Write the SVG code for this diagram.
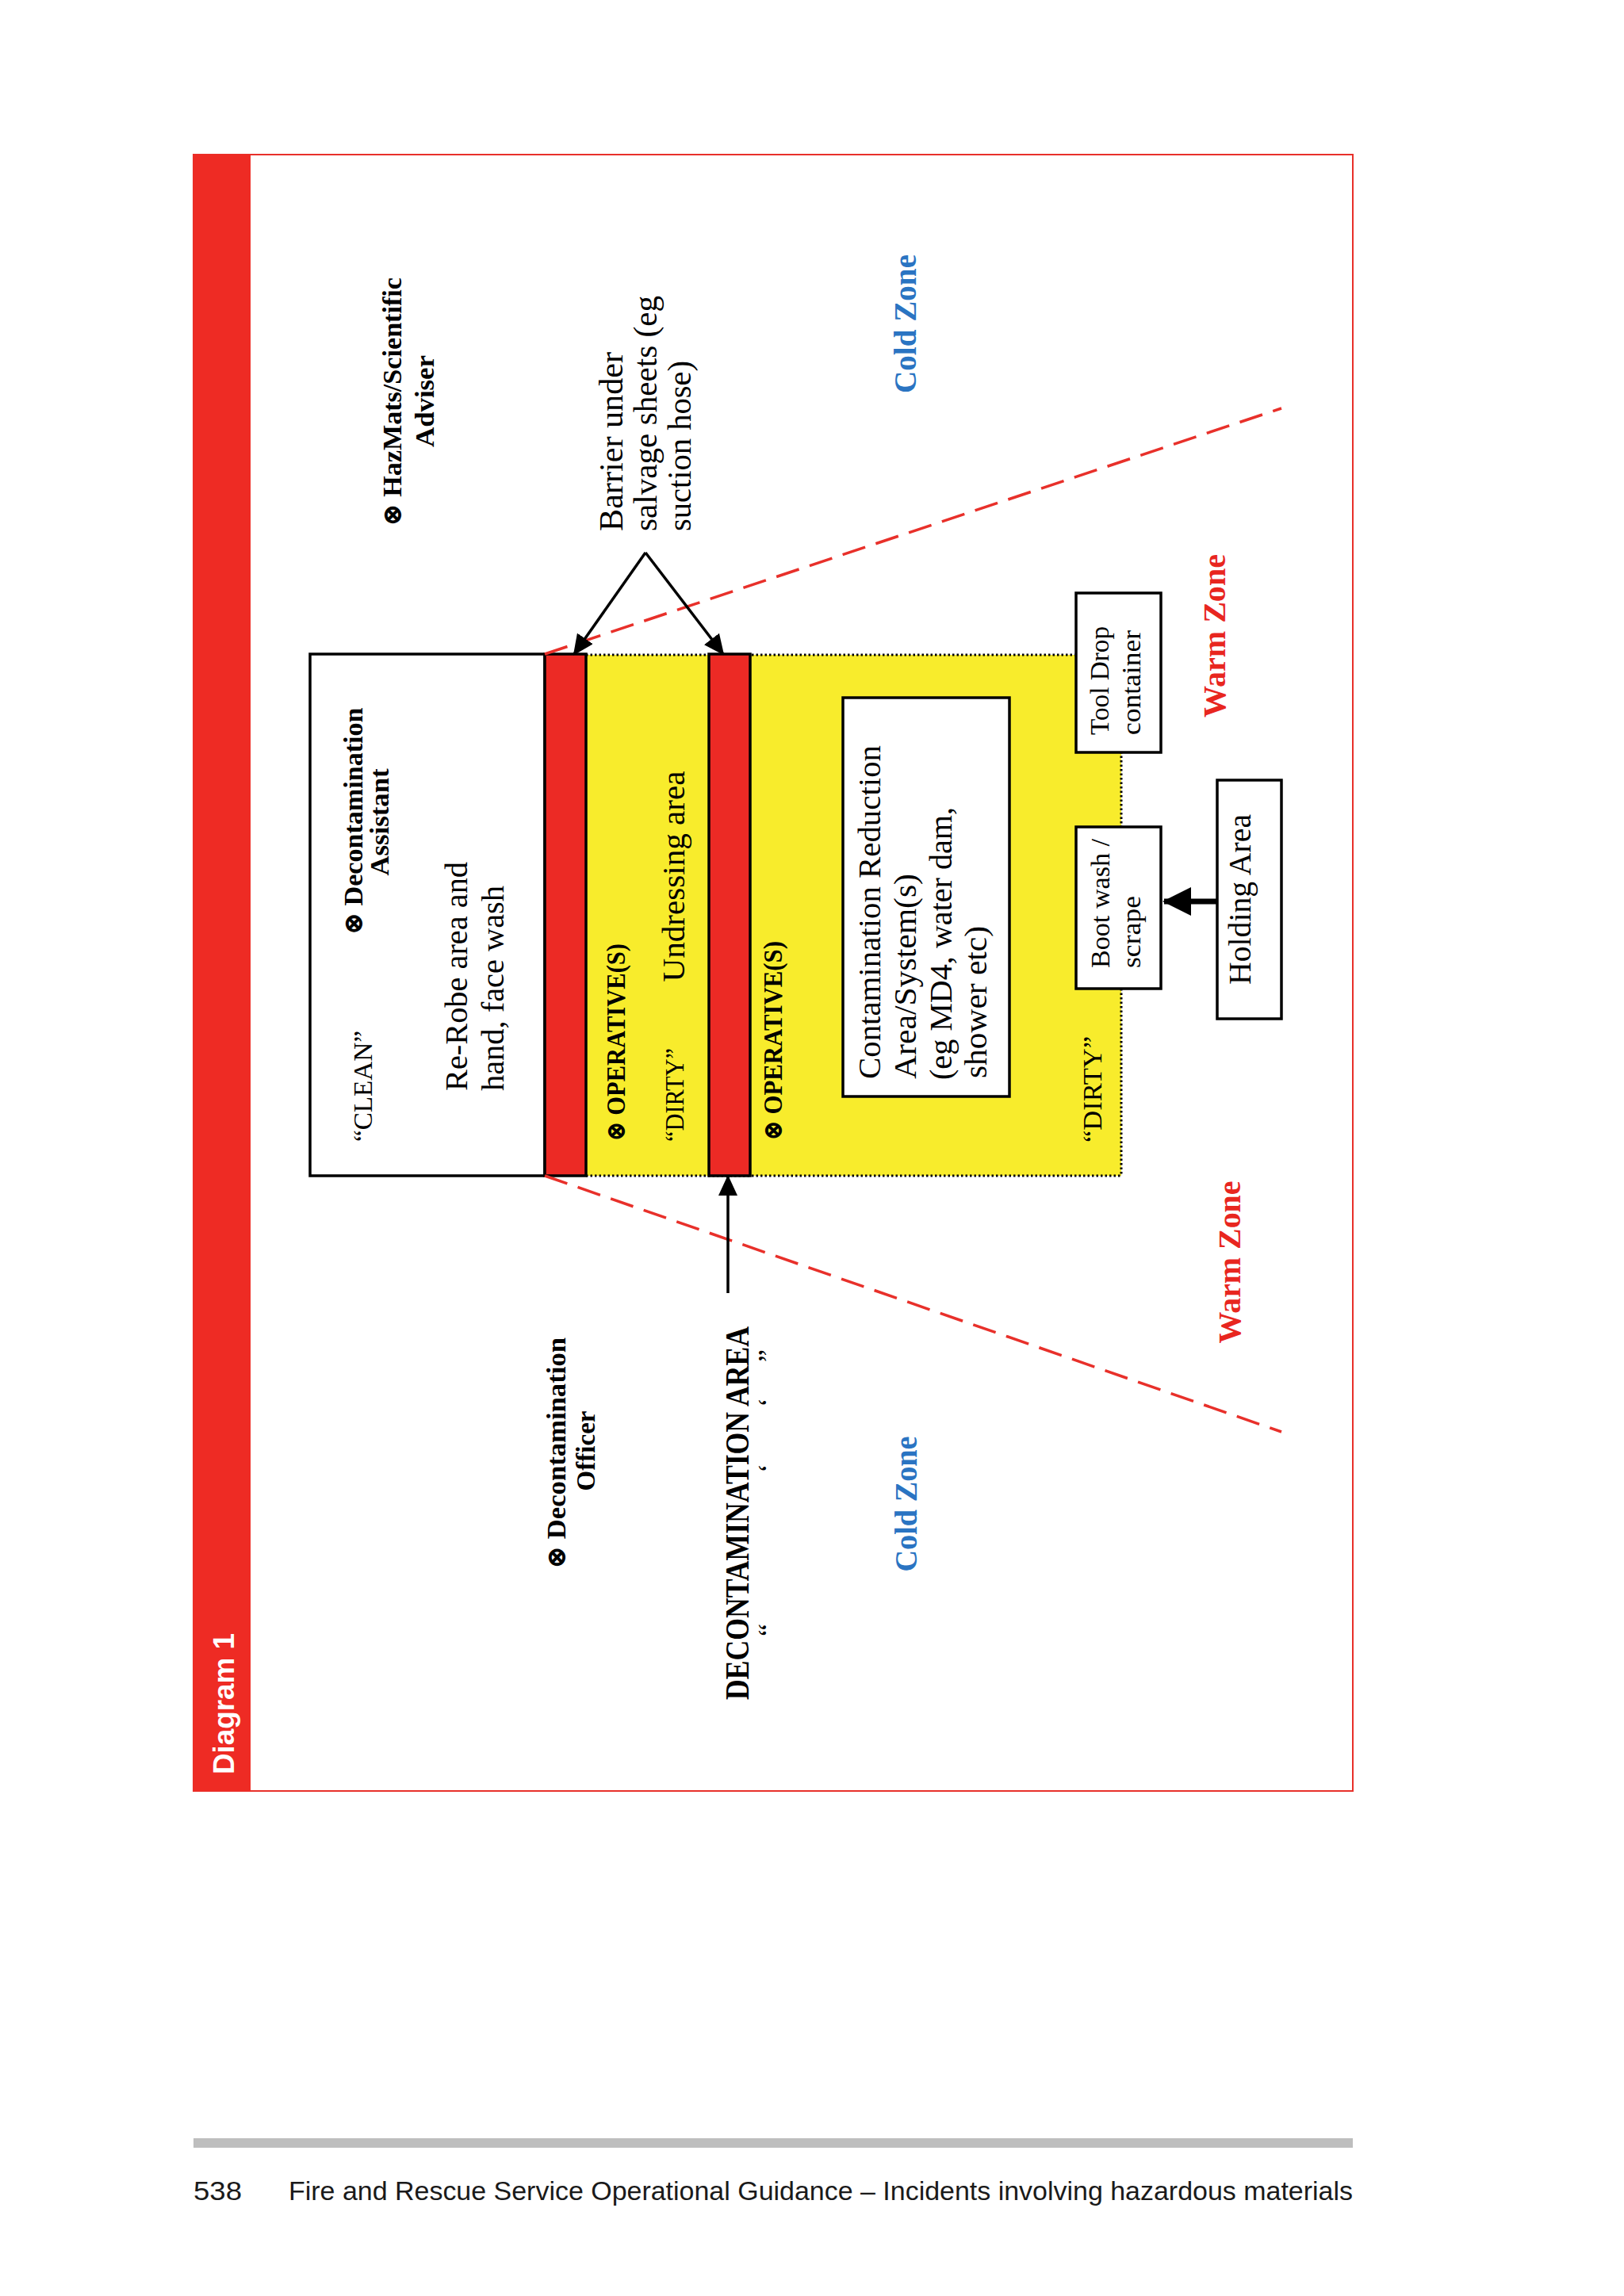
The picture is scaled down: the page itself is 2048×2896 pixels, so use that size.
<svg xmlns="http://www.w3.org/2000/svg" width="2048" height="2896" viewBox="0 0 2048 2896">
<style>
.sf{font-family:"Liberation Serif","DejaVu Serif",serif;fill:#000}
.b{font-weight:bold}
.ss{font-family:"Liberation Sans",Arial,sans-serif}
.box{fill:#fff;stroke:#000;stroke-width:3.5}
.bar{fill:#ec2a25;stroke:#000;stroke-width:3.5}
.dot{fill:none;stroke:#000;stroke-width:3;stroke-dasharray:2.5 3}
.dash{fill:none;stroke:#e8302a;stroke-width:3.5;stroke-dasharray:30 14}
.con{fill:none;stroke:#000;stroke-width:3.5}
.cold{fill:#2a74c2;font-weight:bold}
.warm{fill:#e8261f;font-weight:bold}
</style>
<defs>
<marker id="ah" markerWidth="26" markerHeight="24" refX="24" refY="12" orient="auto" markerUnits="userSpaceOnUse"><path d="M0,0 L26,12 L0,24 z" fill="#000"/></marker>
<marker id="ahb" markerWidth="36" markerHeight="36" refX="34" refY="18" orient="auto" markerUnits="userSpaceOnUse"><path d="M0,0 L36,18 L0,36 z" fill="#000"/></marker>
</defs>
<rect width="2048" height="2896" fill="#fff"/>

<g id="frame">
<rect x="244" y="195" width="1462" height="2064" fill="none" stroke="#e8302a" stroke-width="2"/>
<rect x="244" y="195" width="72" height="2064" fill="#ee2b24"/>
<text class="ss b" transform="translate(295,2238) rotate(-90)" font-size="37" font-weight="bold" fill="#fff" textLength="178" lengthAdjust="spacingAndGlyphs">Diagram 1</text>
</g>

<g id="yellow-area">
<rect x="739" y="826" width="675" height="657" fill="#f8ec2c"/>
<path class="dot" d="M739,826 H1356 M1414,948 V1043 M1414,1247 V1483 M739,1483 H1414"/>
</g>

<g id="clean-area">
<rect class="box" x="391" y="825" width="296" height="658"/>
<text class="sf" transform="translate(469,1440) rotate(-90)" font-size="34" textLength="140" lengthAdjust="spacingAndGlyphs">“CLEAN”</text>
<text class="sf b" transform="translate(457,1036) rotate(-90)" font-size="34" text-anchor="middle" textLength="287" lengthAdjust="spacingAndGlyphs">⊗ Decontamination</text>
<text class="sf b" transform="translate(490,1037) rotate(-90)" font-size="34" text-anchor="middle" textLength="135" lengthAdjust="spacingAndGlyphs">Assistant</text>
<text class="sf" transform="translate(589,1376) rotate(-90)" font-size="40" textLength="289" lengthAdjust="spacingAndGlyphs">Re-Robe area and</text>
<text class="sf" transform="translate(635,1376) rotate(-90)" font-size="40" textLength="259" lengthAdjust="spacingAndGlyphs">hand, face wash</text>
</g>

<g id="barrier-1">
<rect class="bar" x="687" y="825" width="52" height="658"/>
</g>

<g id="undressing-area">
<text class="sf b" transform="translate(788,1440) rotate(-90)" font-size="34" textLength="250" lengthAdjust="spacingAndGlyphs">⊗ OPERATIVE(S)</text>
<text class="sf" transform="translate(862,1440) rotate(-90)" font-size="34" textLength="118" lengthAdjust="spacingAndGlyphs">“DIRTY”</text>
<text class="sf" transform="translate(863,1238.5) rotate(-90)" font-size="40" textLength="266" lengthAdjust="spacingAndGlyphs">Undressing area</text>
</g>

<g id="barrier-2">
<rect class="bar" x="894" y="825" width="52" height="658"/>
</g>

<g id="dirty-area">
<text class="sf b" transform="translate(986,1439) rotate(-90)" font-size="34" textLength="252" lengthAdjust="spacingAndGlyphs">⊗ OPERATIVE(S)</text>
<text class="sf" transform="translate(1389,1441) rotate(-90)" font-size="34" textLength="134" lengthAdjust="spacingAndGlyphs">“DIRTY”</text>
</g>

<g id="contamination-reduction">
<rect class="box" x="1063" y="880" width="210" height="503"/>
<text class="sf" transform="translate(1110,1361) rotate(-90)" font-size="41" textLength="421" lengthAdjust="spacingAndGlyphs">Contamination Reduction</text>
<text class="sf" transform="translate(1155,1361) rotate(-90)" font-size="41" textLength="259" lengthAdjust="spacingAndGlyphs">Area/System(s)</text>
<text class="sf" transform="translate(1200,1362) rotate(-90)" font-size="41" textLength="344" lengthAdjust="spacingAndGlyphs">(eg MD4, water dam,</text>
<text class="sf" transform="translate(1244,1360) rotate(-90)" font-size="41" textLength="192" lengthAdjust="spacingAndGlyphs">shower etc)</text>
</g>

<g id="tool-drop">
<rect class="box" x="1357" y="748" width="107" height="201"/>
<text class="sf" transform="translate(1398,927) rotate(-90)" font-size="33" textLength="137" lengthAdjust="spacingAndGlyphs">Tool Drop</text>
<text class="sf" transform="translate(1438,927) rotate(-90)" font-size="33" textLength="132" lengthAdjust="spacingAndGlyphs">container</text>
</g>

<g id="boot-wash">
<rect class="box" x="1357" y="1043" width="107" height="204"/>
<text class="sf" transform="translate(1399,1221) rotate(-90)" font-size="34" textLength="163" lengthAdjust="spacingAndGlyphs">Boot wash /</text>
<text class="sf" transform="translate(1438,1221) rotate(-90)" font-size="34" textLength="91" lengthAdjust="spacingAndGlyphs">scrape</text>
</g>

<g id="holding-area">
<rect class="box" x="1535" y="984" width="81" height="301"/>
<text class="sf" transform="translate(1577,1134.5) rotate(-90)" font-size="39" text-anchor="middle" textLength="215" lengthAdjust="spacingAndGlyphs">Holding Area</text>
</g>

<g id="hazmats-adviser">
<text class="sf b" transform="translate(506,507) rotate(-90)" font-size="34" text-anchor="middle" textLength="314" lengthAdjust="spacingAndGlyphs">⊗ HazMats/Scientific</text>
<text class="sf b" transform="translate(547,506) rotate(-90)" font-size="34" text-anchor="middle" textLength="116" lengthAdjust="spacingAndGlyphs">Adviser</text>
</g>

<g id="barrier-label">
<text class="sf" transform="translate(785,670) rotate(-90)" font-size="42" textLength="226" lengthAdjust="spacingAndGlyphs">Barrier under</text>
<text class="sf" transform="translate(828,670) rotate(-90)" font-size="42" textLength="297" lengthAdjust="spacingAndGlyphs">salvage sheets (eg</text>
<text class="sf" transform="translate(871,670) rotate(-90)" font-size="42" textLength="215" lengthAdjust="spacingAndGlyphs">suction hose)</text>
</g>

<g id="decon-officer">
<text class="sf b" transform="translate(713,1833) rotate(-90)" font-size="34" text-anchor="middle" textLength="292" lengthAdjust="spacingAndGlyphs">⊗ Decontamination</text>
<text class="sf b" transform="translate(750,1830) rotate(-90)" font-size="34" text-anchor="middle" textLength="101" lengthAdjust="spacingAndGlyphs">Officer</text>
</g>

<g id="decon-area-label">
<text class="sf b" transform="translate(944,2144) rotate(-90)" font-size="42" textLength="471" lengthAdjust="spacingAndGlyphs">DECONTAMINATION AREA</text>
<text class="sf" transform="translate(981,2064) rotate(-90)" font-size="36">“</text>
<text class="sf" transform="translate(981,1858) rotate(-90)" font-size="36">‘</text>
<text class="sf" transform="translate(981,1775) rotate(-90)" font-size="36">‘</text>
<text class="sf" transform="translate(981,1718) rotate(-90)" font-size="36">”</text>
</g>

<g id="zone-labels">
<text class="sf cold" transform="translate(1155,408.5) rotate(-90)" font-size="40" text-anchor="middle" textLength="175" lengthAdjust="spacingAndGlyphs">Cold Zone</text>
<text class="sf cold" transform="translate(1156,1897) rotate(-90)" font-size="40" text-anchor="middle" textLength="171" lengthAdjust="spacingAndGlyphs">Cold Zone</text>
<text class="sf warm" transform="translate(1545,802) rotate(-90)" font-size="40" text-anchor="middle" textLength="206" lengthAdjust="spacingAndGlyphs">Warm Zone</text>
<text class="sf warm" transform="translate(1564,1592) rotate(-90)" font-size="40" text-anchor="middle" textLength="205" lengthAdjust="spacingAndGlyphs">Warm Zone</text>
</g>

<g id="connectors">
<path class="dash" d="M687,825 L1616,515"/>
<path class="dash" d="M687,1483 L1616,1806"/>
<path class="con" d="M814,697 L724,825" marker-end="url(#ah)"/>
<path class="con" d="M814,697 L912,825" marker-end="url(#ah)"/>
<path class="con" d="M918,1631 L918,1484" marker-end="url(#ah)"/>
<path fill="none" stroke="#000" stroke-width="7" d="M1535,1137 L1468,1137" marker-end="url(#ahb)"/>
</g>

<g id="footer">
<rect x="244" y="2697" width="1462" height="12" fill="#bebebe"/>
<text class="ss" x="244" y="2775" font-size="34" fill="#1a1a1a" textLength="61" lengthAdjust="spacingAndGlyphs">538</text>
<text class="ss" x="364" y="2775" font-size="34" fill="#1a1a1a" textLength="1342" lengthAdjust="spacingAndGlyphs">Fire and Rescue Service Operational Guidance – Incidents involving hazardous materials</text>
</g>
</svg>
